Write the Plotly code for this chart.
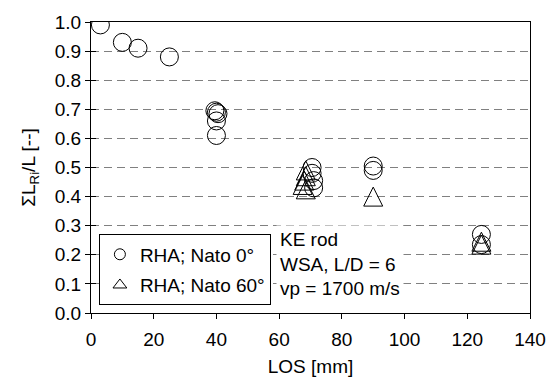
import plotly.graph_objects as go

# Residual rod length fraction vs. line-of-sight thickness
los_nato0 = [3, 10, 15, 25, 39.5, 40, 40.5, 40, 40, 70.5, 70.5, 71, 71, 90, 90, 124.5, 124.5]
frac_nato0 = [0.99, 0.93, 0.91, 0.88, 0.695, 0.69, 0.685, 0.66, 0.61, 0.50, 0.48, 0.455, 0.43, 0.505, 0.49, 0.27, 0.235]

los_nato60 = [68.5, 68.5, 68, 67.5, 68.5, 90, 124.5, 124.5]
frac_nato60 = [0.49, 0.47, 0.455, 0.44, 0.425, 0.40, 0.245, 0.235]

name_nato0 = "RHA; Nato 0°"
name_nato60 = "RHA; Nato 60°"
x_ticks = [0, 20, 40, 60, 80, 100, 120, 140]
y_ticks = [0.0, 0.1, 0.2, 0.3, 0.4, 0.5, 0.6, 0.7, 0.8, 0.9, 1.0]
note_lines = ["KE rod", "WSA, L/D = 6", "vp = 1700 m/s"]

FONT = "Liberation Sans, Arial, sans-serif"
FS = 19
TRI = 19  # triangle marker size in px

fig = go.Figure()

fig.add_trace(go.Scatter(
    x=los_nato0, y=frac_nato0, mode="markers", showlegend=False,
    marker=dict(symbol="circle-open", size=18, color="black", line=dict(width=1, color="black")),
))
# tall isosceles triangles centred on the data point
fig.add_trace(go.Scatter(
    x=los_nato60, y=frac_nato60, mode="markers", showlegend=False, yaxis="y2",
    marker=dict(symbol="arrow-down-open", size=TRI, angle=180, standoff=TRI / 2,
                color="black", line=dict(width=1, color="black")),
))

# legend entries
fig.add_trace(go.Scatter(
    x=[None], y=[None], mode="markers", name=name_nato0, legendgroup="a",
    marker=dict(symbol="circle-open", size=11, color="black", line=dict(width=1, color="black")),
))
fig.add_trace(go.Scatter(
    x=[None], y=[None], mode="markers", name=name_nato60, legendgroup="b",
    marker=dict(symbol="triangle-up-open", size=12, color="black", line=dict(width=1, color="black")),
))

fig.add_annotation(
    x=59, y=0.167, xref="x", yref="y", xanchor="left", yanchor="middle",
    text="<br>".join(note_lines), align="left", showarrow=False,
    bgcolor="white", borderpad=3, font=dict(family=FONT, size=FS, color="black"),
)

axis_common = dict(
    showline=True, linecolor="black", linewidth=1, mirror=True,
    zeroline=False, tickcolor="black", tickwidth=1,
    tickfont=dict(family=FONT, size=FS, color="black"),
)

fig.update_layout(
    width=558, height=385,
    margin=dict(l=91, r=16, t=17, b=72),
    paper_bgcolor="white", plot_bgcolor="white",
    font=dict(family=FONT, size=FS, color="black"),
    xaxis=dict(
        range=[0, 140], tickvals=x_ticks, ticks="outside", ticklen=5, ticklabelstandoff=4,
        showgrid=False,
        title=dict(text="LOS [mm]", font=dict(family=FONT, size=FS), standoff=10),
        **axis_common,
    ),
    yaxis=dict(
        range=[0, 1.0], tickvals=y_ticks, tickformat=".1f", ticks="outside", ticklen=5,
        showgrid=True, gridcolor="#808080", gridwidth=1, griddash="8px,5px",
        title=dict(text="ΣL<sub>Ri</sub>/L [--]", font=dict(family=FONT, size=FS), standoff=14),
        **axis_common,
    ),
    yaxis2=dict(
        overlaying="y", matches="y", side="left", range=[0, 1.0], tickvals=y_ticks,
        ticks="inside", ticklen=5, tickcolor="black", tickwidth=1, showticklabels=False,
        showgrid=False, showline=False, zeroline=False,
    ),
    legend=dict(
        x=0.018, y=0.27, xanchor="left", yanchor="top",
        bgcolor="white", bordercolor="black", borderwidth=1,
        font=dict(family=FONT, size=FS, color="black"),
        traceorder="grouped", tracegroupgap=3,
    ),
)

fig.write_html("out.html")
